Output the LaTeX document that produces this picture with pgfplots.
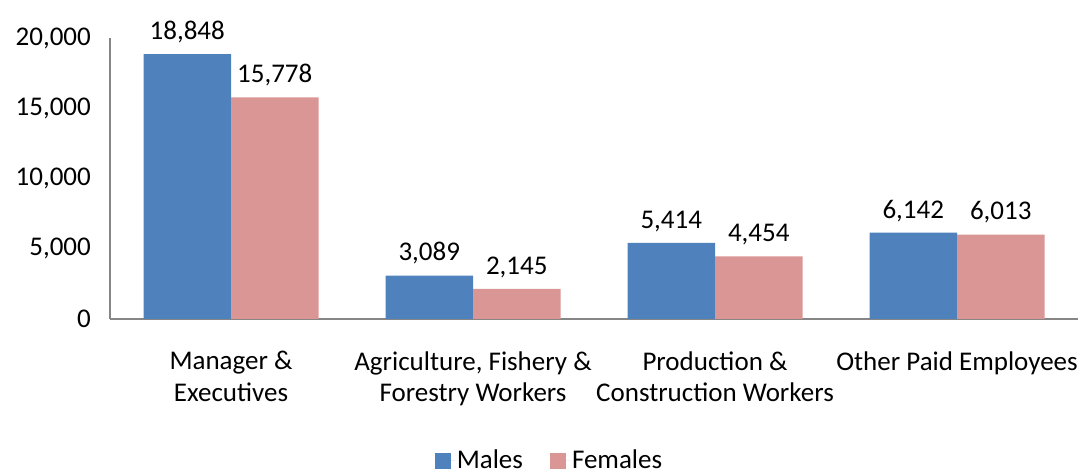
\documentclass[border=0pt]{standalone}
\usepackage{fontspec}
\setmainfont{Carlito}
\usepackage{pgfplots}
\pgfplotsset{compat=1.18}
\definecolor{mblue}{HTML}{4F81BD}
\definecolor{fpink}{HTML}{D99694}
\definecolor{axgray}{HTML}{868686}
\begin{document}
\fontsize{27}{31}\selectfont
\begin{tikzpicture}
\path[use as bounding box] (0,0) rectangle (1079pt,471pt);
\begin{axis}[
  at={(110pt,152pt)}, anchor=south west,
  scale only axis, width=968pt, height=281pt,
  xmin=-0.5, xmax=3.5, ymin=0, ymax=20000,
  ybar=0pt, bar width=87.5pt,
  axis x line*=bottom, axis y line*=left,
  axis line style={draw=axgray, line width=1.5pt, -},
  xtick={0,1,2,3},
  xticklabels={{Manager \&\\Executives},{Agriculture, Fishery \&\\Forestry Workers},{Production \&\\Construction Workers},{Other Paid Employees\\\strut}},
  xticklabel style={align=center, font=\fontsize{27}{31.5}\selectfont, yshift=-19pt},
  ytick={0,5000,10000,15000,20000},
  yticklabel style={font=\fontsize{27}{31}\selectfont, xshift=-10pt},
  tick style={draw=none},
  /pgf/number format/.cd, 1000 sep={,}, assume math mode=true,
  /pgfplots/.cd,
  scaled y ticks=false,
  nodes near coords,
  every node near coord/.append style={font=\fontsize{27}{31}\selectfont, text=black, yshift=2pt, /pgf/number format/1000 sep={,}, /pgf/number format/assume math mode=true},
  legend style={at={(0.454,-0.505)}, anchor=center, draw=none, fill=none, legend columns=2, font=\fontsize{27}{31}\selectfont, /tikz/every even column/.append style={column sep=25pt}},
  legend image code/.code={\fill[#1] (0pt,-8pt) rectangle (16pt,8pt); \path (0pt,0pt) -- (20pt,0pt);},
]
\addplot[fill=mblue, draw=none] coordinates {(0,18848) (1,3089) (2,5414) (3,6142)};
\addplot[fill=fpink, draw=none] coordinates {(0,15778) (1,2145) (2,4454) (3,6013)};
\legend{Males,Females}
\end{axis}
\end{tikzpicture}
\end{document}
